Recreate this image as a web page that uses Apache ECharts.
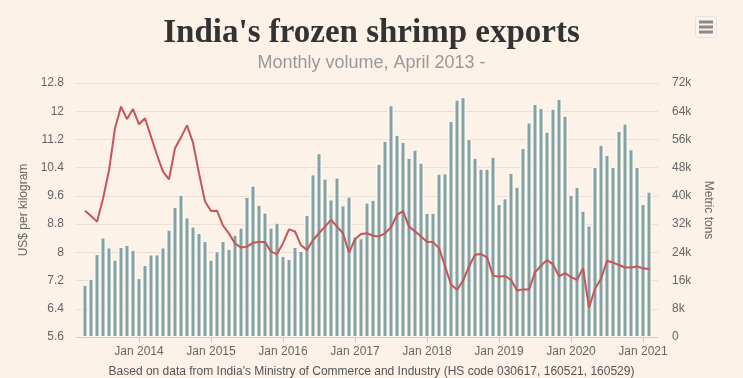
<!DOCTYPE html>
<html>
<head>
<meta charset="utf-8">
<script src="https://cdn.jsdelivr.net/npm/echarts@6/dist/echarts.min.js"></script>
<style>
html,body{margin:0;padding:0;background:#fdf2e8;}
#chart{width:743px;height:378px;}
</style>
</head>
<body>
<div id="chart"></div>
<script>
// Monthly data, April 2013 - February 2021
const startYear = 2013, startMonth = 4;
const volumeTons = [
  14800,16500,23500,28200,25400,21900,25500,26100,24700,
  16700,20400,23400,23400,25400,30400,36900,40300,33900,31300,29500,27200,
  21900,24300,27200,25000,29000,31000,39700,42900,37500,35300,31000,32400,
  23000,22100,25500,24400,34600,46100,52100,44900,39000,45200,37300,39800,
  28500,28000,38100,38900,49100,55600,65700,57300,55300,50800,53100,49400,
  35200,35200,46300,46400,61200,67300,68000,56100,50800,47700,47700,51100,
  37700,39300,46500,42600,53600,60800,66100,64900,58200,64700,67500,62700,
  40300,42500,35800,31600,48200,54500,51600,48200,58400,60500,53200,48200,
  37700,41200
];
const pricePerKg = [
  9.18,9.03,8.87,9.52,10.32,11.52,12.13,11.78,12.06,
  11.63,11.80,11.28,10.76,10.29,10.07,10.95,11.26,11.60,11.11,10.24,9.44,
  9.17,9.18,8.76,8.53,8.25,8.14,8.16,8.27,8.29,8.29,8.02,7.95,
  8.26,8.65,8.59,8.20,8.07,8.35,8.54,8.73,8.92,8.73,8.54,7.99,
  8.37,8.52,8.54,8.47,8.45,8.54,8.71,9.06,9.17,8.73,8.60,8.45,
  8.30,8.29,8.12,7.61,7.09,6.94,7.19,7.60,7.93,7.95,7.86,7.34,
  7.31,7.33,7.22,6.92,6.95,6.95,7.43,7.62,7.78,7.66,7.32,7.41,
  7.30,7.22,7.55,6.43,6.97,7.25,7.76,7.71,7.64,7.57,7.57,7.60,
  7.55,7.53
];
const leftTicks = {min:5.6, max:12.8, interval:0.8};
const rightTicks = {min:0, max:72000, interval:8000};

const months = [];
for (let k = 0; k < volumeTons.length; k++) {
  const m = startMonth - 1 + k;
  const y = startYear + Math.floor(m / 12);
  const mm = (m % 12) + 1;
  months.push(y + '-' + (mm < 10 ? '0' + mm : '' + mm));
}
// one empty slot of padding on each side, like the reference's axis padding
const cats = [''].concat(months, ['']);
const barData = [null].concat(volumeTons, [null]);
const lineData = [null].concat(pricePerKg, [null]);
const isJan = (idx, val) => typeof val === 'string' && val.slice(5) === '01';

const chart = echarts.init(document.getElementById('chart'));
chart.setOption({
  backgroundColor: '#fdf2e8',
  animation: false,
  title: [
    {text: "India's frozen shrimp exports", left: 'center', top: 12,
     textStyle: {fontFamily: 'Liberation Serif', fontWeight: 'bold', fontSize: 33, color: '#333333'}},
    {text: 'Monthly volume, April 2013 -', left: 'center', top: 49,
     textStyle: {fontFamily: 'Liberation Sans', fontWeight: 'normal', fontSize: 18, color: '#999999'}},
    {text: "Based on data from India's Ministry of Commerce and Industry (HS code 030617, 160521, 160529)",
     left: 'center', top: 361,
     textStyle: {fontFamily: 'Liberation Sans', fontWeight: 'normal', fontSize: 12, color: '#555555'}}
  ],
  graphic: [
    {type: 'rect', shape: {x: 695.5, y: 16.5, width: 21, height: 21, r: 2},
     style: {fill: 'rgba(0,0,0,0)', stroke: '#e2e2e2', lineWidth: 1}},
    {type: 'line', shape: {x1: 699, y1: 22, x2: 713, y2: 22}, style: {stroke: '#8a8a8a', lineWidth: 3}},
    {type: 'line', shape: {x1: 699, y1: 27, x2: 713, y2: 27}, style: {stroke: '#8a8a8a', lineWidth: 3}},
    {type: 'line', shape: {x1: 699, y1: 32, x2: 713, y2: 32}, style: {stroke: '#8a8a8a', lineWidth: 3}}
  ],
  grid: {left: 76, right: 85, top: 83, bottom: 41, containLabel: false},
  xAxis: {
    type: 'category', data: cats, boundaryGap: true,
    axisLine: {lineStyle: {color: '#c8ced8', width: 1}},
    axisTick: {show: true, alignWithLabel: true, interval: isJan, length: 6, lineStyle: {color: '#c8ced8'}},
    axisLabel: {interval: isJan, formatter: v => 'Jan ' + v.slice(0, 4), color: '#666666',
                fontFamily: 'Liberation Sans', fontSize: 12, margin: 9},
    splitLine: {show: false}
  },
  yAxis: [
    {type: 'value', min: leftTicks.min, max: leftTicks.max, interval: leftTicks.interval,
     name: 'US$ per kilogram', nameLocation: 'middle', nameGap: 43, nameRotate: 90,
     nameTextStyle: {color: '#666666', fontFamily: 'Liberation Sans', fontSize: 12},
     axisLabel: {color: '#666666', fontFamily: 'Liberation Sans', fontSize: 12, margin: 12,
                 formatter: v => String(Math.round(v * 10) / 10)},
     axisLine: {show: false}, axisTick: {show: false},
     splitLine: {lineStyle: {color: '#e8dfd6', width: 1}}},
    {type: 'value', min: rightTicks.min, max: rightTicks.max, interval: rightTicks.interval,
     position: 'right',
     name: 'Metric tons', nameLocation: 'middle', nameGap: 43, nameRotate: -90,
     nameTextStyle: {color: '#666666', fontFamily: 'Liberation Sans', fontSize: 12},
     axisLabel: {color: '#666666', fontFamily: 'Liberation Sans', fontSize: 12, margin: 14,
                 formatter: v => v === 0 ? '0' : (v / 1000) + 'k'},
     axisLine: {show: false}, axisTick: {show: false},
     splitLine: {show: false}}
  ],
  series: [
    {type: 'bar', yAxisIndex: 1, data: barData, barWidth: 5, z: 2,
     itemStyle: {color: '#86a1a1', borderColor: '#f7fbf8', borderWidth: 1}},
    {type: 'line', yAxisIndex: 0, data: lineData, showSymbol: false, symbol: 'none', z: 3,
     lineStyle: {color: '#c4565a', width: 2}}
  ]
});
</script>
</body>
</html>
